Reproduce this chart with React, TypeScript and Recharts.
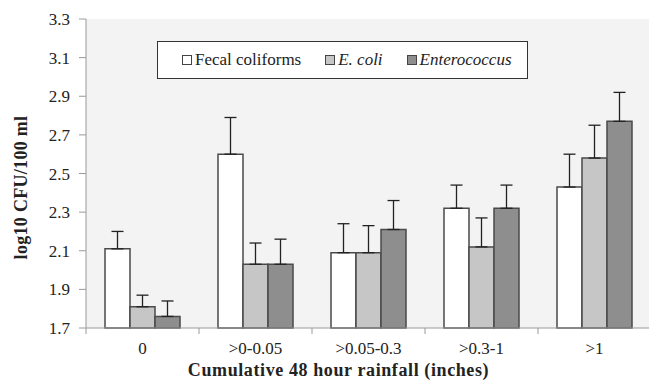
import React from 'react';
import {
  BarChart,
  Bar,
  XAxis,
  YAxis,
  CartesianGrid,
  ErrorBar,
  Legend,
} from 'recharts';

const categories = ['0', '>0-0.05', '>0.05-0.3', '>0.3-1', '>1'];

const fecal = [2.11, 2.6, 2.09, 2.32, 2.43];
const fecalErr = [0.09, 0.19, 0.15, 0.12, 0.17];

const ecoli = [1.81, 2.03, 2.09, 2.12, 2.58];
const ecoliErr = [0.06, 0.11, 0.14, 0.15, 0.17];

const entero = [1.76, 2.03, 2.21, 2.32, 2.77];
const enteroErr = [0.08, 0.13, 0.15, 0.12, 0.15];

const yTicks = [1.7, 1.9, 2.1, 2.3, 2.5, 2.7, 2.9, 3.1, 3.3];

const seriesNames = ['Fecal coliforms', 'E. coli', 'Enterococcus'];
const italicNames = ['E. coli', 'Enterococcus'];

// only the upper whisker is shown, so the lower delta is 0
const data = categories.map((c, i) => ({
  name: c,
  fecal: fecal[i],
  fecalErr: [0, fecalErr[i]],
  ecoli: ecoli[i],
  ecoliErr: [0, ecoliErr[i]],
  entero: entero[i],
  enteroErr: [0, enteroErr[i]],
}));

const FONT = '"Liberation Serif", "Times New Roman", serif';
const CHART_W = 660;
const CHART_H = 388;
const MARGIN = { top: 19, right: 9, bottom: 10, left: 0 };
const Y_W = 86;
const X_H = 50;
const band = (CHART_W - MARGIN.left - MARGIN.right - Y_W) / categories.length;

const XTick = ({ x, y, payload, index }: any) => {
  const top = y - 16;
  return (
    <g>
      <line x1={x - band / 2} x2={x - band / 2} y1={top} y2={top + 6} stroke="#9a9a9a" />
      {index === categories.length - 1 && (
        <line x1={x + band / 2} x2={x + band / 2} y1={top} y2={top + 6} stroke="#9a9a9a" />
      )}
      <text x={x} y={y - 2} dy="0.71em" textAnchor="middle" fill="#222" fontSize={17} fontFamily={FONT}>
        {payload.value}
      </text>
    </g>
  );
};

const YTitle = ({ viewBox }: any) => {
  const cx = viewBox.x + 21;
  const cy = viewBox.y + viewBox.height / 2 + 14;
  return (
    <text
      x={cx}
      y={cy}
      transform={`rotate(-90, ${cx}, ${cy})`}
      textAnchor="middle"
      dominantBaseline="central"
      fill="#222"
      fontSize={18}
      fontWeight="bold"
      fontFamily={FONT}
      letterSpacing={0.3}
    >
      log10 CFU/100 ml
    </text>
  );
};

const XTitle = ({ viewBox }: any) => (
  <text
    x={viewBox.x + viewBox.width / 2 - 30}
    y={viewBox.y + 48}
    textAnchor="middle"
    fill="#222"
    fontSize={18}
    fontWeight="bold"
    fontFamily={FONT}
    letterSpacing={0.6}
  >
    Cumulative 48 hour rainfall (inches)
  </text>
);

const LegendBox = ({ payload }: any) => {
  const items = [...(payload || [])].sort(
    (a: any, b: any) => seriesNames.indexOf(a.value) - seriesNames.indexOf(b.value)
  );
  return (
    <div
      style={{
        width: '100%',
        height: '100%',
        boxSizing: 'border-box',
        border: '1px solid #333',
        background: '#fff',
        display: 'flex',
        alignItems: 'center',
        paddingLeft: 24,
        gap: 24,
        fontFamily: FONT,
        fontSize: 17,
        color: '#222',
      }}
    >
      {items.map((p: any) => (
        <div key={p.value} style={{ display: 'flex', alignItems: 'center', gap: 3 }}>
          <span
            style={{
              display: 'inline-block',
              width: 8,
              height: 8,
              border: '1px solid #444',
              background: p.color,
            }}
          />
          <span style={{ fontStyle: italicNames.includes(p.value) ? 'italic' : 'normal' }}>
            {p.value}
          </span>
        </div>
      ))}
    </div>
  );
};

export default function App() {
  return (
    <div
      style={{
        position: 'absolute',
        left: 0,
        top: 0,
        width: 649,
        height: 388,
        overflow: 'hidden',
        background: '#fff',
      }}
    >
      <BarChart
        width={CHART_W}
        height={CHART_H}
        data={data}
        margin={MARGIN}
        barGap={0}
        barSize={25}
      >
        <CartesianGrid fill="#f2f3f2" horizontal={false} vertical={false} />
        <XAxis
          dataKey="name"
          height={X_H}
          axisLine={{ stroke: '#9a9a9a' }}
          tickLine={false}
          tickSize={6}
          tickMargin={10}
          interval={0}
          tick={<XTick />}
          label={<XTitle />}
        />
        <YAxis
          width={Y_W}
          domain={[1.7, 3.3]}
          ticks={yTicks}
          interval={0}
          tickFormatter={(v: number) => v.toFixed(1)}
          axisLine={{ stroke: '#9a9a9a' }}
          tickLine={{ stroke: '#9a9a9a' }}
          tickSize={7}
          tickMargin={9}
          tick={{ fill: '#222', fontSize: 17, fontFamily: FONT }}
          label={<YTitle />}
        />
        <Legend
          layout="horizontal"
          verticalAlign="middle"
          align="center"
          content={<LegendBox />}
          wrapperStyle={{ left: 157, top: 41, width: 371, height: 38 }}
        />
        <Bar dataKey="fecal" name={seriesNames[0]} fill="#ffffff" stroke="#4a4a4a" strokeWidth={1.5} isAnimationActive={false}>
          <ErrorBar dataKey="fecalErr" width={6} stroke="#222" strokeWidth={1.3} direction="y" />
        </Bar>
        <Bar dataKey="ecoli" name={seriesNames[1]} fill="#c6c6c6" stroke="#4a4a4a" strokeWidth={1.5} isAnimationActive={false}>
          <ErrorBar dataKey="ecoliErr" width={6} stroke="#222" strokeWidth={1.3} direction="y" />
        </Bar>
        <Bar dataKey="entero" name={seriesNames[2]} fill="#8e8e8e" stroke="#4a4a4a" strokeWidth={1.5} isAnimationActive={false}>
          <ErrorBar dataKey="enteroErr" width={6} stroke="#222" strokeWidth={1.3} direction="y" />
        </Bar>
      </BarChart>
    </div>
  );
}
